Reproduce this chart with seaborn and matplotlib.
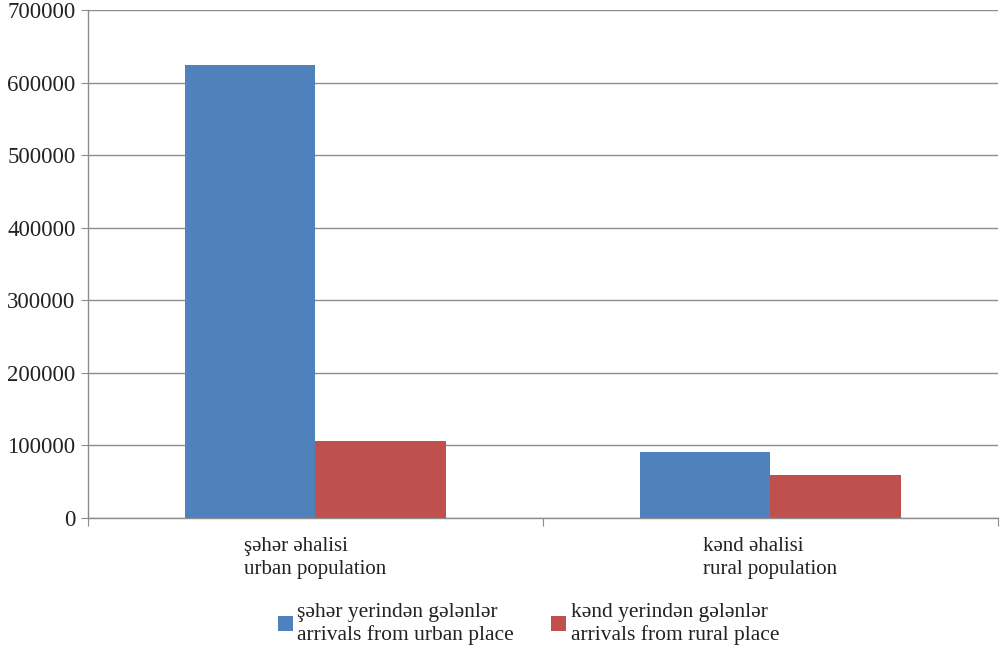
import matplotlib.pyplot as plt
import pandas as pd
import seaborn as sns

# Data
categories = ["şəhər əhalisi\nurban population", "kənd əhalisi\nrural population"]
series = ["şəhər yerindən gələnlər\narrivals from urban place",
          "kənd yerindən gələnlər\narrivals from rural place"]
from_urban = [624000, 91000]
from_rural = [106000, 59000]
colors = ["#4F81BD", "#C0504D"]

df = pd.DataFrame({
    "category": categories * 2,
    "series": [series[0]] * 2 + [series[1]] * 2,
    "value": from_urban + from_rural,
})

sns.set_style("white")
plt.rcParams['font.family'] = ['Liberation Serif', 'DejaVu Serif']

fig = plt.figure(figsize=(10.03, 6.52), dpi=100)
ax = fig.add_axes([88 / 1003, 1 - 518 / 652, 910 / 1003, 508 / 652])

sns.barplot(data=df, x="category", y="value", hue="series", palette=colors,
            width=0.572, saturation=1, linewidth=0, ax=ax, legend=True)

ax.set_ylim(0, 700000)
ax.set_xlim(-0.5, 1.5)
ax.set_yticks(range(0, 700001, 100000))
ax.yaxis.grid(True, color="#8C8C8C", linewidth=1)
ax.set_axisbelow(True)
ax.set_xlabel("")
ax.set_ylabel("")

for side in ["top", "right"]:
    ax.spines[side].set_visible(False)
for side in ["left", "bottom"]:
    ax.spines[side].set_color("#8C8C8C")
    ax.spines[side].set_linewidth(1)

# category ticks at boundaries, labels centered under groups
ax.set_xticks([-0.5, 0.5, 1.5], minor=False)
ax.set_xticklabels([])
ax.set_xticks([0, 1], minor=True)
ax.set_xticklabels(categories, minor=True, fontsize=15, color="#222222", linespacing=1.25)
ax.tick_params(axis="x", which="major", length=6, color="#8C8C8C", direction="out", bottom=True)
ax.tick_params(axis="x", which="minor", length=0, pad=14)
for t in ax.get_xticklabels(minor=True):
    t.set_multialignment("left")
ax.tick_params(axis="y", length=5, color="#8C8C8C", direction="out", left=True,
               labelsize=16.5, labelcolor="#222222", pad=4)

leg = ax.legend(loc="upper center", bbox_to_anchor=(0.484, -0.13), ncol=2, frameon=False,
                fontsize=15.5, handlelength=0.7, handleheight=0.7, handletextpad=0.2,
                columnspacing=1.75, labelcolor="#222222")
for t in leg.get_texts():
    t.set_linespacing(1.2)

fig.savefig("out.png", dpi=100)
